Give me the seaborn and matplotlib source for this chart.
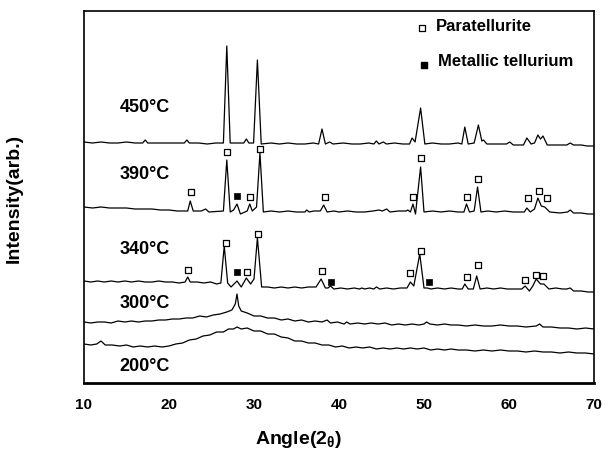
import numpy as np
import pandas as pd
import seaborn as sns
import matplotlib
matplotlib.use('Agg')
import matplotlib.pyplot as plt

# XRD patterns: angle (2theta) and intensity above each curve's own baseline
ang_450 = [10.0, 11.0, 12.0, 13.0, 14.0, 15.0, 16.0, 16.9, 17.2, 17.5, 18.5, 19.5, 20.5, 21.8, 22.1, 22.4,
           23.5, 24.5, 25.5, 26.4, 26.8, 27.2, 28.0, 28.8, 29.1, 29.4, 29.95, 30.4, 30.85, 32.0, 33.0, 34.0,
           35.0, 36.0, 37.0, 37.6, 38.0, 38.4, 38.9, 39.3, 40.5, 41.5, 42.5, 43.5, 44.1, 44.4, 44.7, 45.2,
           45.6, 46.5, 47.5, 48.3, 48.6, 48.95, 49.6, 50.1, 51.0, 52.0, 53.0, 54.0, 54.45, 54.8, 55.2, 55.9,
           56.4, 56.8, 57.0, 57.4, 58.5, 59.7, 60.1, 60.5, 61.7, 62.1, 62.6, 63.0, 63.4, 63.7, 64.0, 64.5,
           65.5, 66.8, 67.2, 67.6, 68.5, 69.2, 70.0]
int_450 = [2, 1, 2, 1, 1, 2, 1, 1, 4, 1, 1, 1, 1, 1, 4, 1,
           1, 0, 1, 1, 98, 1, 1, 1, 5, 1, 1, 84, 0, 1, 0, 1,
           0, 0, 1, 0, 15, 0, 2, 0, 1, 0, 0, 1, 0, 3, 0, 2,
           0, 1, 0, 0, 6, 2, 36, 0, 1, 0, 0, 1, 0, 17, 0, 1,
           19, 3, 4, 0, 0, 0, 2, -1, -1, 6, 0, 1, 9, 5, 8, -1,
           -1, -1, 1, -1, -1, -2, -2]

ang_390 = [10.0, 11.0, 12.0, 13.0, 14.0, 15.0, 16.0, 17.0, 18.0, 19.0, 20.0, 21.0, 22.2, 22.5, 22.85, 23.8,
           24.3, 24.7, 26.4, 26.8, 27.2, 27.6, 28.0, 28.4, 29.2, 29.5, 29.8, 30.3, 30.7, 31.1, 32.0, 33.0,
           34.0, 35.0, 36.0, 36.2, 36.5, 37.0, 37.8, 38.2, 38.6, 39.4, 40.0, 41.0, 42.0, 43.0, 44.0, 44.7,
           45.1, 45.6, 46.0, 47.0, 47.9, 48.1, 48.4, 48.7, 49.0, 49.6, 50.0, 51.0, 52.0, 53.0, 54.0, 54.7,
           55.0, 55.35, 55.9, 56.3, 56.7, 57.5, 58.5, 59.5, 60.5, 61.8, 62.1, 62.5, 63.0, 63.4, 63.8, 64.2,
           64.8, 66.0, 66.9, 67.2, 67.6, 68.5, 69.3, 70.0]
int_390 = [5, 4, 5, 4, 4, 4, 3, 3, 3, 2, 2, 1, 1, 11, 1, 1,
           3, 0, 1, 52, 0, 2, 8, -2, 1, 8, 1, 5, 59, 0, 1, 0,
           1, 0, 0, 2, 0, 1, 1, 7, 0, 1, 0, 1, 0, 0, 1, 2,
           1, 3, 0, 1, 1, 2, 0, 8, -2, 45, 0, 1, 0, 1, 0, 0,
           8, 0, 1, 25, 0, 1, 0, 1, 0, 0, 4, 0, 3, 14, 6, 5,
           0, -1, 0, 2, -1, -1, -2, -2]

ang_340 = [10.0, 10.8, 11.6, 12.4, 13.2, 14.0, 14.8, 15.6, 16.4, 17.2, 18.0, 18.8, 19.6, 20.4, 21.2, 21.9,
           22.2, 22.5, 23.3, 24.1, 24.9, 25.6, 26.1, 26.5, 26.9, 27.3, 28.0, 28.5, 29.1, 29.6, 30.0, 30.4,
           30.9, 31.6, 32.4, 33.2, 34.0, 34.8, 35.6, 36.4, 37.3, 37.9, 38.4, 38.7, 39.0, 39.4, 40.2, 41.0,
           41.8, 42.4, 42.7, 43.0, 43.6, 44.1, 44.4, 44.8, 45.6, 46.4, 47.2, 48.0, 48.4, 48.8, 49.5, 50.0,
           50.4, 50.8, 51.6, 52.4, 53.2, 54.0, 54.5, 54.8, 55.2, 55.8, 56.2, 56.6, 57.4, 58.2, 59.0, 59.8,
           60.6, 61.5, 61.9, 62.4, 62.8, 63.2, 63.7, 64.1, 64.7, 65.5, 66.3, 66.8, 67.2, 67.6, 68.5, 69.3,
           70.0]
int_340 = [8, 7, 8, 7, 8, 7, 8, 7, 8, 7, 7, 8, 7, 7, 6, 7,
           12, 7, 7, 6, 7, 5, 6, 43, 6, 2, 8, 2, 11, 5, 10, 51,
           2, 2, 1, 2, 1, 2, 1, 2, 2, 10, 1, 1, 3, 0, 1, 0,
           1, 0, 1, 0, 1, 0, 2, 0, 1, 0, 1, 1, 7, 3, 35, 1,
           1, 0, 1, 0, 1, 0, 0, 5, 0, 0, 13, 0, 1, 0, 1, 0,
           0, 0, 3, -2, 3, 10, 5, 5, 0, 1, 0, 0, 1, -2, -2, -3,
           -3]

ang_300 = [10.0, 10.8, 11.6, 12.4, 13.2, 14.0, 14.8, 15.6, 16.4, 17.2, 18.0, 18.8, 19.6, 20.4, 21.2, 22.0,
           22.8, 23.6, 24.4, 25.2, 26.0, 26.8, 27.4, 27.8, 28.0, 28.2, 28.5, 29.2, 30.0, 30.8, 31.6, 32.4,
           33.2, 34.0, 34.8, 35.6, 36.4, 37.2, 38.0, 38.6, 39.0, 39.8, 40.6, 40.9, 41.3, 42.2, 43.0, 43.8,
           44.6, 45.4, 46.2, 47.0, 47.8, 48.6, 49.4, 50.0, 50.3, 50.7, 51.6, 52.4, 53.2, 54.0, 55.0, 56.0,
           57.0, 58.0, 59.0, 60.0, 61.0, 62.0, 63.2, 63.6, 64.0, 65.0, 66.0, 67.0, 68.0, 69.0, 70.0]
int_300 = [2, 1, 2, 2, 1, 3, 2, 3, 2, 3, 3, 4, 4, 5, 5, 6,
           6, 8, 7, 9, 10, 12, 14, 20, 30, 18, 13, 11, 8, 8, 6, 6,
           4, 5, 3, 4, 2, 3, 2, 4, 1, 2, 0, 2, 0, 1, 0, 1,
           0, 1, -1, 0, -1, 0, -1, 0, 2, 0, -1, 0, -1, -1, -2, -1,
           -2, -2, -1, -2, -2, -3, -2, 0, -3, -3, -4, -4, -5, -4, -5]

ang_200 = [10.0, 10.8, 11.5, 12.0, 12.5, 13.3, 14.2, 15.0, 15.8, 16.6, 17.5, 18.3, 19.2, 20.0, 20.8, 21.6,
           22.4, 23.2, 24.0, 24.8, 25.6, 26.4, 27.0, 27.6, 28.0, 28.5, 29.2, 30.0, 30.8, 31.6, 32.4, 33.2,
           34.0, 34.8, 35.6, 36.4, 37.2, 38.0, 38.8, 39.6, 40.4, 41.2, 42.0, 42.8, 43.6, 44.4, 45.2, 46.0,
           46.8, 47.6, 48.4, 49.2, 50.0, 50.8, 51.6, 52.4, 53.2, 54.0, 55.0, 56.0, 57.0, 58.0, 59.0, 60.0,
           61.0, 62.0, 63.0, 64.0, 65.0, 66.0, 67.0, 68.0, 69.0, 70.0]
int_200 = [5, 4, 5, 8, 4, 4, 3, 4, 2, 3, 2, 3, 2, 3, 5, 6,
           9, 10, 13, 14, 17, 17, 20, 20, 22, 20, 21, 18, 18, 15, 15, 12,
           11, 8, 8, 6, 6, 4, 4, 2, 3, 1, 2, 1, 2, 0, 1, 0,
           1, 0, 1, 0, 1, -1, 0, -1, 0, -1, -1, -2, -1, -2, -1, -2,
           -2, -3, -2, -3, -3, -4, -3, -4, -4, -5]

curves = ['450', '390', '340', '300', '200']
curve_angles = [ang_450, ang_390, ang_340, ang_300, ang_200]
curve_ints = [int_450, int_390, int_340, int_300, int_200]
curve_labels = ['450°C', '390°C', '340°C', '300°C', '200°C']

# phase markers (angle, height above baseline)
para_390_ang = [22.55, 26.8, 29.5, 30.7, 38.4, 48.7, 49.7, 55.1, 56.4, 62.2, 63.5, 64.5]
para_390_int = [20, 60, 15, 63, 15, 15, 54, 15, 33, 14, 21, 14]
tell_390_ang = [28.0]
tell_390_int = [16]
para_340_ang = [22.2, 26.7, 29.2, 30.5, 38.0, 48.4, 49.6, 55.1, 56.3, 61.9, 63.2, 64.0]
para_340_int = [19, 46, 17, 55, 18, 16, 38, 12, 24, 9, 14, 13]
tell_340_ang = [28.0, 39.1, 50.6]
tell_340_int = [17, 7, 7]

# vertical stacking of the patterns
offsets = {'450': 239, '390': 171, '340': 94, '300': 59, '200': 34}
label_y = {'450': 276, '390': 209, '340': 134, '300': 80, '200': 17}

rows = []
for name, a, v in zip(curves, curve_angles, curve_ints):
    for x, y in zip(a, v):
        rows.append((name, x, y + offsets[name]))
df = pd.DataFrame(rows, columns=['curve', 'angle', 'y'])

para = pd.DataFrame({'angle': para_390_ang + para_340_ang,
                     'y': [v + offsets['390'] for v in para_390_int] + [v + offsets['340'] for v in para_340_int]})
tell = pd.DataFrame({'angle': tell_390_ang + tell_340_ang,
                     'y': [v + offsets['390'] for v in tell_390_int] + [v + offsets['340'] for v in tell_340_int]})

sns.set_style('white')
plt.rcParams['font.family'] = ['Liberation Sans', 'DejaVu Sans']
plt.rcParams['font.weight'] = 'bold'
plt.rcParams['text.color'] = 'black'
plt.rcParams['axes.labelcolor'] = 'black'
plt.rcParams['xtick.color'] = 'black'
plt.rcParams['mathtext.fontset'] = 'custom'
plt.rcParams['mathtext.rm'] = 'Liberation Sans:bold'

fig = plt.figure(figsize=(6.11, 4.56), dpi=100)
ax = fig.add_axes([84 / 611, 1 - 384 / 456, 510 / 611, 372 / 456])

sns.lineplot(data=df, x='angle', y='y', units='curve', estimator=None, color='black',
             linewidth=0.9, sort=False, ax=ax)
sns.scatterplot(data=para, x='angle', y='y', marker='s', s=22, facecolor='white',
                edgecolor='black', linewidth=0.9, ax=ax, zorder=3)
sns.scatterplot(data=tell, x='angle', y='y', marker='s', s=22, color='black',
                edgecolor='black', linewidth=0.5, ax=ax, zorder=3)

for name, lab in zip(curves, curve_labels):
    ax.text(14.2, label_y[name], lab, fontsize=13, fontweight='bold', va='center', ha='left')

# legend drawn by hand
ax.scatter([0.662], [0.955], marker='s', s=18, facecolor='white', edgecolor='black',
           linewidth=0.9, transform=ax.transAxes)
ax.text(0.690, 0.960, 'Paratellurite', fontsize=12, fontweight='bold', va='center',
        transform=ax.transAxes)
ax.scatter([0.666], [0.856], marker='s', s=18, color='black', transform=ax.transAxes)
ax.text(0.695, 0.866, 'Metallic tellurium', fontsize=12, fontweight='bold', va='center',
        transform=ax.transAxes)

ax.set_xlim(10, 70)
ax.set_ylim(0, 372)
ax.set_xticks([10, 20, 30, 40, 50, 60, 70])
ax.set_yticks([])
ax.tick_params(axis='x', direction='in', length=4, width=1, labelsize=11, pad=10)
for t in ax.get_xticklabels():
    t.set_fontweight('bold')
for s in ax.spines.values():
    s.set_linewidth(1.2)
    s.set_color('black')
ax.spines['bottom'].set_linewidth(2)

ax.set_xlabel('Angle(2$_{\\mathrm{\\theta}}$)', fontsize=14, fontweight='bold')
ax.xaxis.set_label_coords(0.42, -0.12)
ax.set_ylabel('Intensity(arb.)', fontsize=14, fontweight='bold')
ax.yaxis.set_label_coords(-0.12, 0.5)

fig.savefig('out.png', dpi=100)
